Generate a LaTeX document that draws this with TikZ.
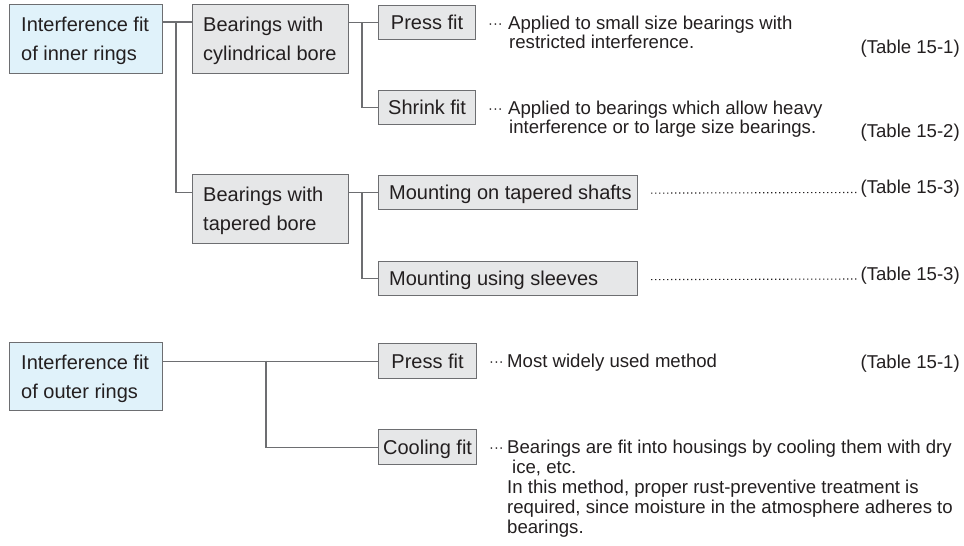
\documentclass[tikz,border=0pt]{standalone}
\usepackage{fontspec}
\setmainfont{Liberation Sans}
\usetikzlibrary{calc}
\definecolor{bord}{HTML}{6D6E71}
\definecolor{boxg}{HTML}{E6E7E8}
\definecolor{boxb}{HTML}{E0F2FA}
\definecolor{txt}{HTML}{231F20}
\newcommand{\boxtextfont}{\fontsize{20}{24}\selectfont}
\newcommand{\desctextfont}{\fontsize{18.6}{22}\selectfont}
\newcommand{\dotsfont}{\fontsize{14.5}{16}\selectfont}
\begin{document}
\begin{tikzpicture}[x=1pt,y=-1pt,
  frame/.style={draw=bord, line width=1.2pt, anchor=north west, inner sep=0pt},
  bluebox/.style={frame, fill=boxb, minimum width=153pt, minimum height=69pt},
  graybox/.style={frame, fill=boxg, minimum width=156pt, minimum height=69pt},
  leaf/.style={frame, fill=boxg, minimum height=34pt, text height=14pt, text depth=0pt, font=\boxtextfont, text=txt},
  btxt/.style={anchor=base west, inner sep=0pt, font=\boxtextfont, text=txt},
  dtxt/.style={anchor=base west, inner sep=0pt, font=\desctextfont, text=txt},
  dots/.style={anchor=base west, inner sep=0pt, font=\dotsfont, text=txt},
  ttxt/.style={anchor=base east, inner sep=0pt, font=\desctextfont, text=txt},
  conn/.style={draw=bord, line width=1.2pt},
  leader/.style={draw=txt, line width=1.1pt, dash pattern=on 1.1pt off 2.9pt}
]
\useasboundingbox (0,0) rectangle (964,546);

% ---- inner rings tree ----
\node[bluebox] (A) at (9,4) {};
\node[btxt] (A1) at ($(A.north west)+(12,27)$) {Interference fit};
\node[btxt] (A2) at ($(A.north west)+(12,56.5)$) {of inner rings};

\node[graybox] (B) at (192,4) {};
\node[btxt] (B1) at ($(B.north west)+(11,27)$) {Bearings with};
\node[btxt] (B2) at ($(B.north west)+(11,56.5)$) {cylindrical bore};

\node[graybox] (Tb) at (192,174) {};
\node[btxt] (Tb1) at ($(Tb.north west)+(11,27)$) {Bearings with};
\node[btxt] (Tb2) at ($(Tb.north west)+(11,56.5)$) {tapered bore};

\node[leaf, minimum width=97pt] (P1) at (378,5) {Press fit};
\node[leaf, minimum width=97pt] (S1) at (378,90) {Shrink fit};
\node[leaf, minimum width=259pt] (MT) at (378,175) {};
\node[btxt] (MT1) at ($(MT.west)+(11,7)$) {Mounting on tapered shafts};
\node[leaf, minimum width=259pt] (MS) at (378,261) {};
\node[btxt] (MS1) at ($(MS.west)+(11,7)$) {Mounting using sleeves};

\coordinate (jA) at (176,22);
\coordinate (jB) at (362,22);
\coordinate (jT) at (362,192);

\draw[conn] (A.east |- jA) -- (B.west |- jA);
\draw[conn] (jA) |- (Tb.west |- MT.west);
\draw[conn] (B.east |- P1.west) -- (P1.west);
\draw[conn] (jB) |- (S1.west);
\draw[conn] (Tb.east |- MT.west) -- (MT.west);
\draw[conn] (jT) |- (MS.west);

% descriptions (inner)
\node[dots] (d1) at (488,28) {···};
\node[dtxt] (d1a) at (508,29) {Applied to small size bearings with};
\node[dtxt] (d1b) at (509,48) {restricted interference.};
\node[ttxt] (t1) at (960,53) {(Table 15-1)};

\node[dots] (d2) at (488,113) {···};
\node[dtxt] (d2a) at (508,114) {Applied to bearings which allow heavy};
\node[dtxt] (d2b) at (509,133) {interference or to large size bearings.};
\node[ttxt] (t2) at (960,137) {(Table 15-2)};

\node[ttxt] (t3) at (960,193) {(Table 15-3)};
\node[ttxt] (t4) at (960,280) {(Table 15-3)};
\draw[leader] ($(MT.east)+(13,0.5)$) -- ($(t3.base west)+(-4,-0.5)$);
\draw[leader] ($(MS.east)+(13,1)$) -- ($(t4.base west)+(-4,-1)$);

% ---- outer rings tree ----
\node[bluebox, minimum height=68pt] (O) at (9,342) {};
\node[btxt] (O1) at ($(O.north west)+(12,27)$) {Interference fit};
\node[btxt] (O2) at ($(O.north west)+(12,56.5)$) {of outer rings};

\node[leaf, minimum width=98pt, minimum height=35pt] (P2) at (378,343) {Press fit};
\node[leaf, minimum width=98pt, minimum height=35pt] (C) at (378,429) {Cooling fit};

\coordinate (jO) at (266,360.5);
\draw[conn] (O.east |- P2.west) -- (P2.west);
\draw[conn] (jO) |- (C.west);

\node[dots] (d3) at (489,366) {···};
\node[dtxt] (d3a) at (507,367) {Most widely used method};
\node[ttxt] (t5) at (960,368) {(Table 15-1)};

\node[dots] (d4) at (489,452) {···};
\node[dtxt] (d4a) at (507,453) {Bearings are fit into housings by cooling them with dry};
\node[dtxt] (d4b) at (512,473) {ice, etc.};
\node[dtxt] (d4c) at (507,493) {In this method, proper rust-preventive treatment is};
\node[dtxt] (d4d) at (507,513) {required, since moisture in the atmosphere adheres to};
\node[dtxt] (d4e) at (507,533) {bearings.};
\end{tikzpicture}
\end{document}
